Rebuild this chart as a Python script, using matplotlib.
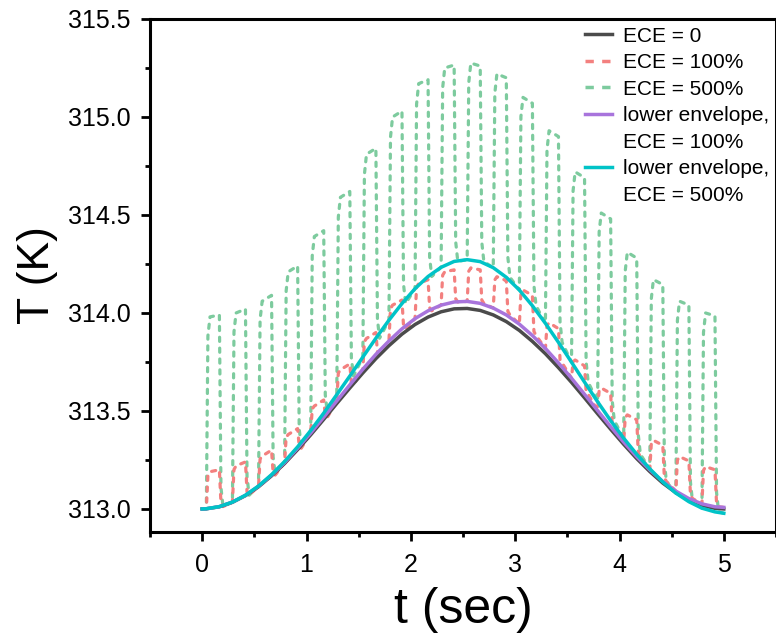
import matplotlib
matplotlib.use("Agg")
import matplotlib.pyplot as plt
from matplotlib.lines import Line2D
from matplotlib.ticker import MultipleLocator, FormatStrFormatter

plt.rcParams['font.family'] = ['Liberation Sans', 'DejaVu Sans']

# ---------------- data ----------------
# sample times: start, the 40 field switching instants (on/off alternately), end
t_grid = [0.0, 0.04, 0.165, 0.29, 0.415, 0.54, 0.665, 0.79, 0.915, 1.04, 1.165,
          1.29, 1.415, 1.54, 1.665, 1.79, 1.915, 2.04, 2.165, 2.29, 2.415,
          2.54, 2.665, 2.79, 2.915, 3.04, 3.165, 3.29, 3.415, 3.54, 3.665,
          3.79, 3.915, 4.04, 4.165, 4.29, 4.415, 4.54, 4.665, 4.79, 4.915, 5.0]

T_ece0 = [313.000, 313.001, 313.011, 313.034, 313.068, 313.113, 313.169, 313.232,
          313.303, 313.378, 313.457, 313.538, 313.617, 313.694, 313.767, 313.833,
          313.892, 313.941, 313.979, 314.006, 314.021, 314.023, 314.013, 313.990,
          313.956, 313.911, 313.855, 313.792, 313.721, 313.646, 313.567, 313.486,
          313.407, 313.330, 313.257, 313.191, 313.132, 313.083, 313.045, 313.018,
          313.003, 313.000]

T_env100 = [313.000, 313.001, 313.012, 313.035, 313.070, 313.116, 313.173, 313.237,
            313.310, 313.387, 313.468, 313.551, 313.633, 313.713, 313.789, 313.857,
            313.919, 313.971, 314.011, 314.040, 314.056, 314.059, 314.049, 314.025,
            313.990, 313.943, 313.885, 313.819, 313.745, 313.667, 313.585, 313.502,
            313.420, 313.341, 313.267, 313.200, 313.140, 313.091, 313.053, 313.026,
            313.011, 313.008]

T_env500 = [313.000, 313.001, 313.012, 313.035, 313.070, 313.117, 313.175, 313.242,
            313.317, 313.400, 313.489, 313.583, 313.678, 313.775, 313.871, 313.963,
            314.048, 314.124, 314.186, 314.233, 314.263, 314.272, 314.262, 314.231,
            314.182, 314.117, 314.037, 313.947, 313.850, 313.749, 313.647, 313.547,
            313.451, 313.361, 313.279, 313.205, 313.138, 313.081, 313.037, 313.004,
            312.985, 312.978]

# plateau temperatures during each of the 20 field-on intervals
red_top_on = [313.19, 313.22, 313.27, 313.38, 313.525, 313.71, 313.87, 314.04, 314.15, 314.21,
              314.23, 314.185, 314.117, 313.95, 313.76, 313.617, 313.48, 313.35, 313.267, 313.216]
red_top_off = [313.20, 313.24, 313.30, 313.41, 313.556, 313.74, 313.90, 314.066, 314.17, 314.22,
               314.22, 314.165, 314.09, 313.92, 313.73, 313.59, 313.455, 313.325, 313.245, 313.20]
green_top_on = [313.98, 314.00, 314.06, 314.21, 314.39, 314.59, 314.81, 315.00, 315.17, 315.25,
                315.275, 315.22, 315.10, 314.93, 314.72, 314.51, 314.31, 314.17, 314.06, 314.00]
green_top_off = [313.99, 314.02, 314.09, 314.24, 314.42, 314.62, 314.84, 315.03, 315.19, 315.265,
                 315.26, 315.20, 315.07, 314.90, 314.69, 314.48, 314.28, 314.145, 314.04, 313.985]

labels = ['ECE = 0', 'ECE = 100%', 'ECE = 500%', 'lower envelope,', 'ECE = 100%',
          'lower envelope,', 'ECE = 500%']

x_ticks = [0, 1, 2, 3, 4, 5]
y_ticks = [313.0, 313.5, 314.0, 314.5, 315.0, 315.5]

# ---------------- styles ----------------
C_BLACK = '#4b4b4b'
C_RED = '#f3807f'
C_GREEN = '#7dcb9e'
C_PURPLE = '#a874dc'
C_CYAN = '#00c3c7'


def pulse_train(env, top_on, top_off, ramp=0.015, settle=0.035, frac=0.9):
    xs = [t_grid[0]]
    ys = [env[0]]
    for k in range(len(top_on)):
        i_on, i_off = 1 + 2 * k, 2 + 2 * k
        ton, toff = t_grid[i_on], t_grid[i_off]
        lo_on, lo_off = env[i_on], env[i_off]
        a, b = top_on[k], top_off[k]
        xs += [ton, ton + ramp, ton + settle, toff, toff + ramp, toff + settle]
        ys += [lo_on, lo_on + frac * (a - lo_on), a, b, b - frac * (b - lo_off), lo_off]
    xs.append(t_grid[-1])
    ys.append(env[-1])
    return xs, ys


fig = plt.figure(figsize=(7.76, 6.35), dpi=100)
ax = fig.add_axes([0.1933, 0.1627, 0.8067, 0.8074])

lw = 2.5
dash = (0, (1.3, 2.1))

gx, gy = pulse_train(T_env500, green_top_on, green_top_off)
rx, ry = pulse_train(T_env100, red_top_on, red_top_off)

ax.plot(gx, gy, color=C_GREEN, lw=2.3, ls=dash, dash_capstyle='round', zorder=2)
ax.plot(rx, ry, color=C_RED, lw=2.3, ls=dash, dash_capstyle='round', zorder=3)
ax.plot(t_grid, T_ece0, color=C_BLACK, lw=lw, zorder=4)
ax.plot(t_grid, T_env100, color=C_PURPLE, lw=lw, zorder=5)
ax.plot(t_grid, T_env500, color=C_CYAN, lw=lw, zorder=6)

ax.set_xlim(-0.5, 5.5)
ax.set_ylim(312.884, 315.5)
ax.set_xticks(x_ticks)
ax.set_yticks(y_ticks)
ax.xaxis.set_minor_locator(MultipleLocator(0.5))
ax.yaxis.set_minor_locator(MultipleLocator(0.25))
ax.yaxis.set_major_formatter(FormatStrFormatter('%.1f'))

for s in ax.spines.values():
    s.set_linewidth(2.2)
ax.tick_params(which='both', direction='out', top=False, right=False, width=2.0)
ax.tick_params(which='major', length=6.5, labelsize=18)
ax.tick_params(axis='y', which='major', pad=7.5)
ax.tick_params(axis='x', which='major', pad=9)
ax.tick_params(which='minor', length=3.8)

ax.set_xlabel('t (sec)', fontsize=36, labelpad=7)
ax.set_ylabel('T (K)', fontsize=32, labelpad=7)

blank = Line2D([], [], color='none')
leg_dash = (0, (2.4, 2.4))
handles = [
    Line2D([], [], color=C_BLACK, lw=lw),
    Line2D([], [], color=C_RED, lw=lw, ls=leg_dash),
    Line2D([], [], color=C_GREEN, lw=lw, ls=leg_dash),
    Line2D([], [], color=C_PURPLE, lw=lw),
    blank,
    Line2D([], [], color=C_CYAN, lw=lw),
    blank,
]
leg = ax.legend(handles, labels, loc='upper left', bbox_to_anchor=(0.7539, 0.958),
                bbox_transform=fig.transFigure, frameon=False, fontsize=15,
                handlelength=1.3, handletextpad=0.5, labelspacing=0.36,
                borderpad=0, borderaxespad=0)

fig.savefig('out.png', dpi=100)
